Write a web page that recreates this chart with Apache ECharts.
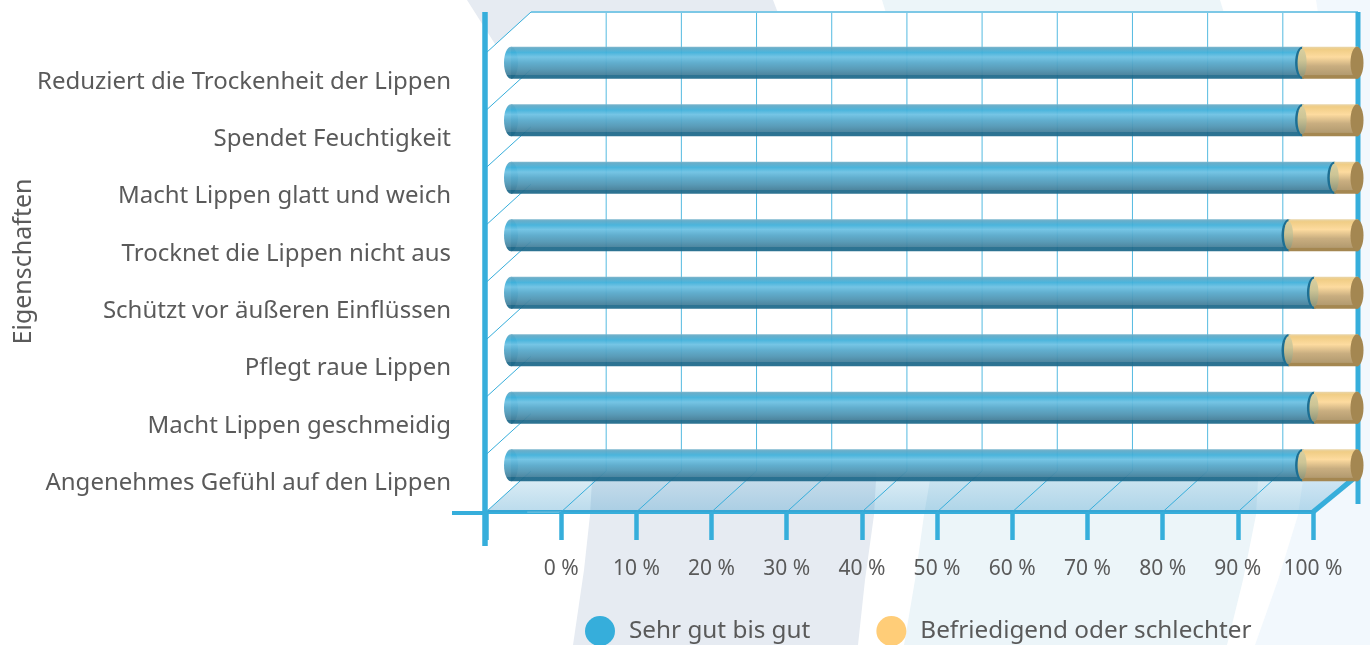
<!DOCTYPE html>
<html>
<head>
<meta charset="utf-8">
<style>html,body{margin:0;padding:0;background:#fff}#c{width:1370px;height:645px}</style>
<script src="https://cdn.jsdelivr.net/npm/echarts@6/dist/echarts.min.js"></script>
</head>
<body>
<div id="c"></div>
<script>
// ---- data ----
const categories = [
  'Reduziert die Trockenheit der Lippen',
  'Spendet Feuchtigkeit',
  'Macht Lippen glatt und weich',
  'Trocknet die Lippen nicht aus',
  'Schützt vor äußeren Einflüssen',
  'Pflegt raue Lippen',
  'Macht Lippen geschmeidig',
  'Angenehmes Gefühl auf den Lippen'
];
const sehrGut = [93.4, 93.4, 97.2, 91.8, 94.8, 91.8, 94.8, 93.4];
const befriedigend = [6.6, 6.6, 2.8, 8.2, 5.2, 8.2, 5.2, 6.6];
const tickValues = [0, 10, 20, 30, 40, 50, 60, 70, 80, 90, 100];

const FONT = '"Noto Sans", sans-serif';
const TEXT = '#5a5a5a';
const LINE = '#36aedb';
const DX = 45, DY = -41;   // Tiefe der 3D-Wand

// ---- 3D-Rahmen ----
function renderFrame(params, api){
  const kids = [];
  const band = api.size([0, 1])[1];
  const p0 = api.coord([-10, 0]);
  const yTop = p0[1] - band / 2;
  const yBot = yTop + band * categories.length;
  const xL = p0[0];
  const xR = api.coord([100, 0])[0];
  const line = (x1, y1, x2, y2, w, c, o) => ({ type:'line', shape:{x1,y1,x2,y2},
    style:{ stroke:c || LINE, lineWidth:w || 1, opacity:o == null ? 1 : o } });

  // weisse Wand
  kids.push({ type:'polygon', shape:{ points:[[xL,yTop],[xL+DX,yTop+DY],[xR+DX,yTop+DY],[xR+DX,yBot+DY],[xL+DX,yBot+DY],[xL,yBot]] },
    style:{ fill:'#fff' } });

  // Boden
  kids.push({ type:'polygon', shape:{ points:[[xL,yBot],[xR,yBot],[xR+DX,yBot+DY],[xL+DX,yBot+DY]] },
    style:{ fill:{ type:'linear',x:0,y:0,x2:0,y2:1,colorStops:[
      {offset:0,color:'rgba(54,150,200,0.14)'},{offset:1,color:'rgba(54,150,200,0.34)'}] } } });

  // Wandlinien links
  for(let i = 0; i <= categories.length; i++){
    const y = yTop + band * i;
    kids.push(line(xL, y, xL + DX, y + DY, 1, LINE));
  }
  // Gitter
  tickValues.forEach(v => {
    const x = api.coord([v, 0])[0];
    kids.push(line(x, yBot, x + DX, yBot + DY, 1, LINE));
    if(v < 100) kids.push(line(x + DX, yBot + DY, x + DX, yTop + DY, 1, LINE, 0.85));
  });
  kids.push(line(xL + DX, yTop + DY, xR + DX, yTop + DY, 2, '#7cc8e6'));

  // dicke Kanten
  kids.push(line(xR, yBot, xR + DX, yBot + DY + 4, 5, LINE));
  kids.push(line(xR + DX, yTop + DY, xR + DX, yBot - 8, 5, LINE));
  kids.push(line(xL - 1, yTop + DY, xL - 1, yBot + 34, 5.5, LINE));
  kids.push(line(xL - 34, yBot + 1, xL, yBot + 1, 4, LINE));

  return { type:'group', children:kids };
}

// ---- Zylinder ----
const RX = 7, BAR_H = 32;
function renderBlue(params, api){
  const i = api.value(0);
  const s = api.coord([api.value(1), i]);
  const e = api.coord([api.value(2), i]);
  const y = s[1] - BAR_H / 2;
  const fill = { type:'linear',x:0,y:0,x2:0,y2:1,colorStops:blueStops };
  return { type:'group', children:[
    { type:'ellipse', shape:{ cx:s[0]+RX, cy:s[1], rx:RX, ry:BAR_H/2 }, style:{ fill, opacity:0.94 } },
    { type:'rect', shape:{ x:s[0]+RX, y, width:e[0]-s[0], height:BAR_H }, style:{ fill, opacity:0.94 } },
    { type:'ellipse', shape:{ cx:e[0]+RX, cy:s[1], rx:RX, ry:BAR_H/2 }, style:{ fill:'#1d6f93' } }
  ]};
}
function renderTan(params, api){
  const i = api.value(0);
  const s = api.coord([api.value(1), i]);
  const e = api.coord([api.value(2), i]);
  const y = s[1] - BAR_H / 2;
  const fill = { type:'linear',x:0,y:0,x2:0,y2:1,colorStops:tanStops };
  const inner = { type:'linear',x:0,y:0,x2:0,y2:1,colorStops:[
    {offset:0,color:'#d9cf9f'},{offset:0.4,color:'#cdc596'},{offset:1,color:'#8f9478'}] };
  return { type:'group', children:[
    { type:'rect', shape:{ x:s[0]+RX, y, width:e[0]-s[0], height:BAR_H }, style:{ fill } },
    { type:'ellipse', shape:{ cx:s[0]+RX, cy:s[1], rx:4.5, ry:BAR_H/2 - 2 }, style:{ fill:inner } },
    { type:'ellipse', shape:{ cx:e[0]+RX-1, cy:s[1], rx:RX-0.5, ry:BAR_H/2 }, style:{ fill:'#a48751' } }
  ]};
}
const blueStops = [
  {offset:0,color:'#78b4cc'},{offset:0.05,color:'#5ea9c7'},{offset:0.18,color:'#3fb0da'},{offset:0.32,color:'#6cc1e3'},
  {offset:0.5,color:'#57a9cb'},{offset:0.7,color:'#4f95b3'},{offset:0.87,color:'#437f9a'},{offset:0.88,color:'#1f6a8b'},{offset:1,color:'#1f6a8b'}
];
const tanStops = [
  {offset:0,color:'#e8d5aa'},{offset:0.08,color:'#f0cd85'},{offset:0.32,color:'#fddb9f'},
  {offset:0.6,color:'#c9ae80'},{offset:0.88,color:'#b39b70'},{offset:0.9,color:'#a48751'},{offset:1,color:'#a48751'}
];

const blueData = sehrGut.map((v, i) => [i, 0, v]);
const tanData = befriedigend.map((v, i) => [i, sehrGut[i], sehrGut[i] + v]);

const chart = echarts.init(document.getElementById('c'));
chart.setOption({
  animation:false,
  backgroundColor:'#fff',
  textStyle:{ fontFamily:FONT, color:TEXT },
  // Hintergrund-Schwuenge (nur oben und unten sichtbar)
  graphic:[
    { type:'polygon', z:-10, shape:{ points:[[467,0],[495,44],[560,200],[592,440],[592,480],[590,515],[584,570],[573,645],
      [858,645],[865,580],[874,515],[876,480],[870,300],[800,60],[778,13],[773,0]] }, style:{ fill:'#e6ebf2' } },
    { type:'polygon', z:-10, shape:{ points:[[882,0],[886,13],[930,300],[930,480],[924,515],[915,580],[904,645],
      [1227,645],[1243,580],[1256,515],[1258,480],[1260,300],[1224,13],[1220,0]] }, style:{ fill:'#ecf5f9' } },
    { type:'polygon', z:-10, shape:{ points:[[1316,0],[1318,13],[1330,200],[1303,480],[1298,515],[1278,580],[1255,645],
      [1370,645],[1370,0]] }, style:{ fill:'#f2f8fd' } }
  ],
  grid:[
    // Vorderkante: Achsen und Beschriftung
    { left:486, right:57, top:53, bottom:133, outerBoundsMode:'none' },
    // hintere Ebene: Zylinder
    { left:504, right:19, top:34, bottom:151, outerBoundsMode:'none' }
  ],
  xAxis:[
    { gridIndex:0, type:'value', min:-10, max:100, interval:10,
      axisLine:{ show:true, lineStyle:{ color:LINE, width:4 } },
      axisTick:{ show:true, length:28, lineStyle:{ color:LINE, width:4.5 } },
      splitLine:{ show:false },
      axisLabel:{ fontFamily:FONT, fontSize:21, color:TEXT, margin:47,
        formatter:v => v < 0 ? '' : v + ' %' } },
    { gridIndex:1, type:'value', min:0, max:100, show:false }
  ],
  yAxis:[
    { gridIndex:0, type:'category', data:categories, inverse:true,
      name:'Eigenschaften', nameLocation:'middle', nameGap:450, nameMoveOverlap:false,
      nameTextStyle:{ fontFamily:FONT, fontSize:25, color:TEXT, padding:[0,0,0,42] },
      axisLine:{ show:false },
      axisTick:{ show:true, length:34, lineStyle:{ color:'#6cc4e4', width:1.5 } },
      axisLabel:{ fontFamily:FONT, fontSize:24, color:TEXT, margin:35 } },
    { gridIndex:1, type:'category', data:categories, inverse:true, show:false }
  ],
  legend:{ left:580, top:611, itemWidth:30, itemHeight:30, itemGap:66, icon:'circle',
    textStyle:{ fontFamily:FONT, fontSize:24.3, color:TEXT, padding:[3,0,0,9] },
    data:['Sehr gut bis gut','Befriedigend oder schlechter'] },
  series:[
    { type:'custom', name:'frame', xAxisIndex:0, yAxisIndex:0, z:1, silent:true, clip:false,
      renderItem:renderFrame, data:[[0]] },
    { type:'custom', name:'Sehr gut bis gut', xAxisIndex:1, yAxisIndex:1, z:3, clip:false,
      itemStyle:{ color:'#36aedb' }, encode:{ x:[1,2], y:0 },
      renderItem:renderBlue, data:blueData },
    { type:'custom', name:'Befriedigend oder schlechter', xAxisIndex:1, yAxisIndex:1, z:4, clip:false,
      itemStyle:{ color:'#ffcd78' }, encode:{ x:[1,2], y:0 },
      renderItem:renderTan, data:tanData }
  ]
});
</script>
</body>
</html>
